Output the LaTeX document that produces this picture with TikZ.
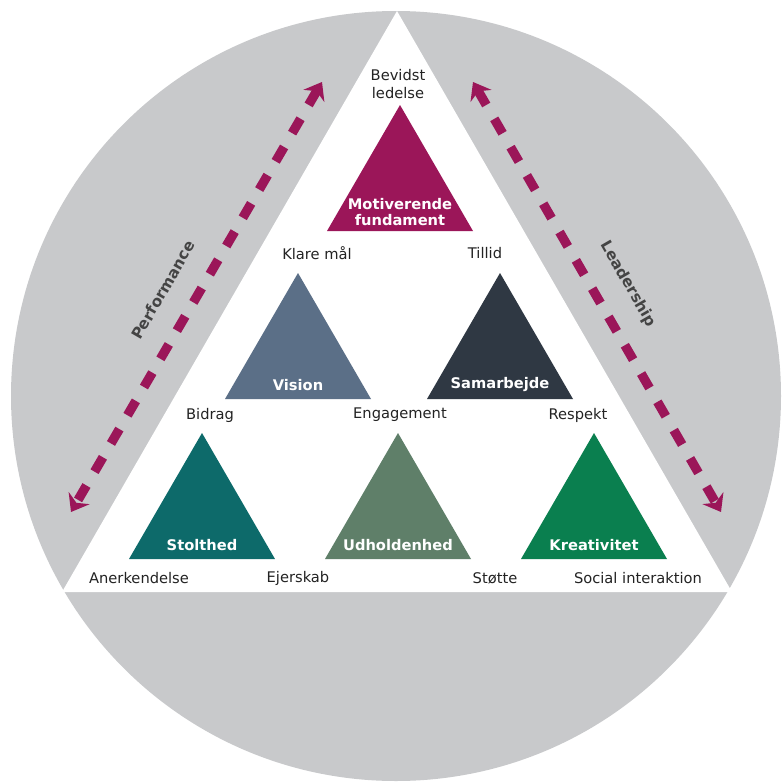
\documentclass[tikz,border=0pt]{standalone}
\usepackage{fontspec}
\setmainfont{DejaVu Sans}
\usetikzlibrary{arrows.meta}

\definecolor{ringgray}{RGB}{200,201,203}
\definecolor{plum}{RGB}{155,22,89}
\definecolor{slate}{RGB}{91,111,135}
\definecolor{charcoal}{RGB}{47,56,67}
\definecolor{teal}{RGB}{13,106,106}
\definecolor{sage}{RGB}{95,127,105}
\definecolor{emerald}{RGB}{10,127,79}
\definecolor{txtgray}{RGB}{35,35,35}

\tikzset{
  word/.style={font=\fontsize{11}{13}\selectfont, text=txtgray, inner sep=0.75pt, align=center},
  triword/.style={font=\fontsize{11}{12.5}\selectfont\bfseries, text=white, inner sep=0.75pt, align=center},
  sideword/.style={font=\fontsize{11.5}{13}\selectfont\bfseries, text=txtgray!85, inner sep=0.75pt},
  dasharrow/.style={draw=plum, line width=7pt, dash pattern=on 12.5pt off 12pt,
    {Stealth[length=12pt,width=18pt,inset=4pt]}-{Stealth[length=12pt,width=18pt,inset=4pt]}}
}

\begin{document}
\begin{tikzpicture}[x=0.75pt,y=0.75pt,yscale=-1,xscale=1]
\useasboundingbox (0,0) rectangle (782,782);

%Shape: Circle [id:ring]
\fill [ringgray] (396,396) circle (385);
%Shape: Triangle [id:frame]
\fill [white] (397,11) -- (732,592) -- (62,592) -- cycle ;

%Shape: Triangle [id:motiv]
\fill [plum] (400,105) -- (473,231) -- (327,231) -- cycle ;
%Shape: Triangle [id:vision]
\fill [slate] (298,273) -- (371,399) -- (225,399) -- cycle ;
%Shape: Triangle [id:samarb]
\fill [charcoal] (500,273) -- (573,399) -- (427,399) -- cycle ;
%Shape: Triangle [id:stolt]
\fill [teal] (202,433) -- (275,559) -- (129,559) -- cycle ;
%Shape: Triangle [id:udhold]
\fill [sage] (398,433) -- (471,559) -- (325,559) -- cycle ;
%Shape: Triangle [id:kreativ]
\fill [emerald] (594,433) -- (667,559) -- (521,559) -- cycle ;

%Straight Lines [id:perf]
\coordinate (perfTop) at (322,82);
\coordinate (perfBot) at (71,512);
\draw [dasharrow] (perfTop) -- (perfBot) ;
%Straight Lines [id:lead]
\coordinate (leadTop) at (473,82);
\coordinate (leadBot) at (721,512);
\draw [dasharrow] (leadTop) -- (leadBot) ;

% Text Node
\node [sideword, rotate=60] (performance) at (163,290) {Performance};
% Text Node
\node [sideword, rotate=-60] (leadership) at (628,284) {Leadership};

% Text Node
\node [triword] (motivT) at (400,212) {Motiverende\\fundament};
% Text Node
\node [triword] (visionT) at (298,385) {Vision};
% Text Node
\node [triword] (samarbT) at (500,385) {Samarbejde};
% Text Node
\node [triword] (stoltT) at (202,545) {Stolthed};
% Text Node
\node [triword] (udholdT) at (398,545) {Udholdenhed};
% Text Node
\node [triword] (kreativT) at (594,545) {Kreativitet};

% Text Node
\node [word] (bevidst) at (398,84) {Bevidst\\ledelse};
% Text Node
\node [word] (klare) at (317,253) {Klare mål};
% Text Node
\node [word] (tillid) at (485,253) {Tillid};
% Text Node
\node [word] (bidrag) at (210,415) {Bidrag};
% Text Node
\node [word] (engag) at (400,415) {Engagement};
% Text Node
\node [word] (respekt) at (578,415) {Respekt};
% Text Node
\node [word] (anerk) at (139,578) {Anerkendelse};
% Text Node
\node [word] (ejerskab) at (298,578) {Ejerskab};
% Text Node
\node [word] (stoette) at (495,578) {Støtte};
% Text Node
\node [word] (social) at (638,578) {Social interaktion};

\end{tikzpicture}
\end{document}
